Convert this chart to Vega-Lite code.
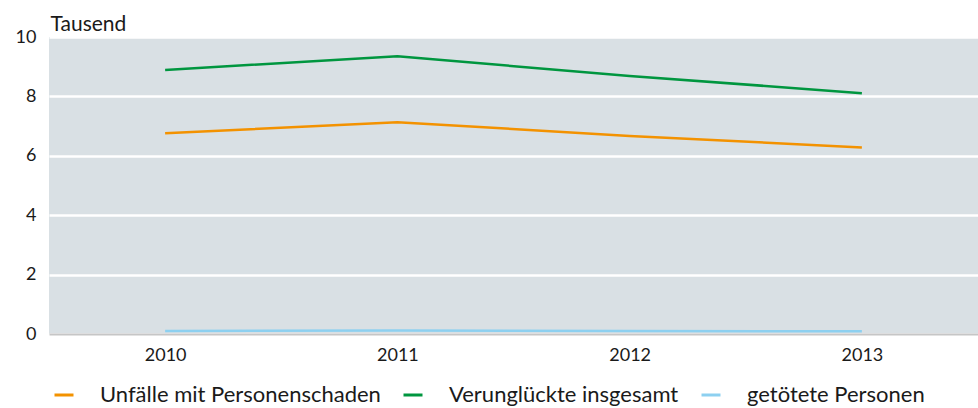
{
  "$schema": "https://vega.github.io/schema/vega-lite/v6.json",
  "width": 929,
  "height": 297,
  "autosize": {"type": "none"},
  "padding": {"left": 49, "top": 37, "right": 0, "bottom": 74},
  "background": "white",
  "config": {
    "font": "Lato",
    "view": {"fill": "#d9e0e4", "stroke": null},
    "axis": {"labelFont": "Lato", "labelFontSize": 18, "labelColor": "#1a1a1a", "titleFont": "Lato"},
    "legend": {"labelFont": "Lato"}
  },
  "data": {
    "values": [
      {"Jahr": "2010", "Reihe": "Unfälle mit Personenschaden", "Wert": 6.76},
      {"Jahr": "2011", "Reihe": "Unfälle mit Personenschaden", "Wert": 7.13},
      {"Jahr": "2012", "Reihe": "Unfälle mit Personenschaden", "Wert": 6.67},
      {"Jahr": "2013", "Reihe": "Unfälle mit Personenschaden", "Wert": 6.28},
      {"Jahr": "2010", "Reihe": "Verunglückte insgesamt", "Wert": 8.89},
      {"Jahr": "2011", "Reihe": "Verunglückte insgesamt", "Wert": 9.35},
      {"Jahr": "2012", "Reihe": "Verunglückte insgesamt", "Wert": 8.69},
      {"Jahr": "2013", "Reihe": "Verunglückte insgesamt", "Wert": 8.11},
      {"Jahr": "2010", "Reihe": "getötete Personen", "Wert": 0.1},
      {"Jahr": "2011", "Reihe": "getötete Personen", "Wert": 0.12},
      {"Jahr": "2012", "Reihe": "getötete Personen", "Wert": 0.1},
      {"Jahr": "2013", "Reihe": "getötete Personen", "Wert": 0.09}
    ]
  },
  "mark": {"type": "line", "strokeWidth": 2.5, "strokeCap": "butt"},
  "encoding": {
    "x": {
      "field": "Jahr", "type": "ordinal",
      "scale": {"type": "point", "padding": 0.5},
      "axis": {"title": null, "labelAngle": 0, "ticks": false, "grid": false, "domain": true, "domainColor": "#c6c6c6", "domainWidth": 2, "labelPadding": 12}
    },
    "y": {
      "field": "Wert", "type": "quantitative",
      "scale": {"domain": [0, 10], "nice": false},
      "axis": {
        "title": "Tausend", "titleAngle": 0, "titleAlign": "left", "titleBaseline": "alphabetic",
        "titleX": 1, "titleY": -7, "titleFontSize": 21, "titleFontWeight": "normal", "titleColor": "#1a1a1a",
        "values": [0, 2, 4, 6, 8, 10], "domain": false, "ticks": false, "labelPadding": 13,
        "gridColor": "white", "gridWidth": 2.5, "gridOpacity": 1, "labelBaseline": "middle"
      }
    },
    "color": {
      "field": "Reihe", "type": "nominal",
      "sort": ["Unfälle mit Personenschaden", "Verunglückte insgesamt", "getötete Personen"],
      "scale": {"domain": ["Unfälle mit Personenschaden", "Verunglückte insgesamt", "getötete Personen"], "range": ["#f39200", "#00963f", "#8dd0f0"]},
      "legend": {
        "title": null, "orient": "none", "direction": "horizontal", "legendX": 4, "legendY": 347,
        "symbolType": "stroke", "symbolStrokeWidth": 3, "symbolSize": 361, "labelFontSize": 22, "labelLimit": 0,
        "labelColor": "#1a1a1a", "labelOffset": 25, "columnPadding": 16, "padding": 0
      }
    }
  }
}
